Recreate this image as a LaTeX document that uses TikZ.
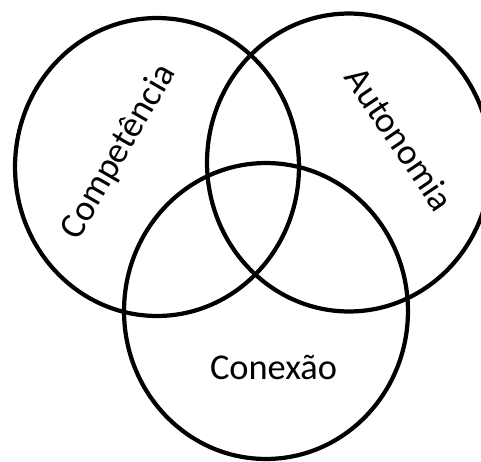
\documentclass[tikz,border=0pt]{standalone}
\usepackage{fontspec}
\setmainfont{Carlito}
\usepackage{tikz}
\usetikzlibrary{positioning}
\tikzset{
  ring/.style={draw=black, line width=2.4pt},
  lbl/.style={inner sep=0pt, font=\fontsize{20.7}{25}\selectfont}
}
\begin{document}
\begin{tikzpicture}[x=0.02cm, y=-0.02cm]
  \useasboundingbox (0,0) rectangle (481,461);
  \clip (0,0) rectangle (481,461);

  \draw[ring] (157,167) ellipse [x radius=2.84cm, y radius=2.98cm];
  \draw[ring] (349,162.5) ellipse [x radius=2.84cm, y radius=2.98cm];
  \draw[ring] (266,311) ellipse [x radius=2.84cm, y radius=2.96cm];

  \node[lbl, rotate=60] (comp) at (119,152) {Competência};
  \node[lbl, rotate=-56] (auto) at (400,139) {Autonomia};
  \node[lbl, anchor=base] (conx) at (273.5,379) {Conexão};
\end{tikzpicture}
\end{document}
